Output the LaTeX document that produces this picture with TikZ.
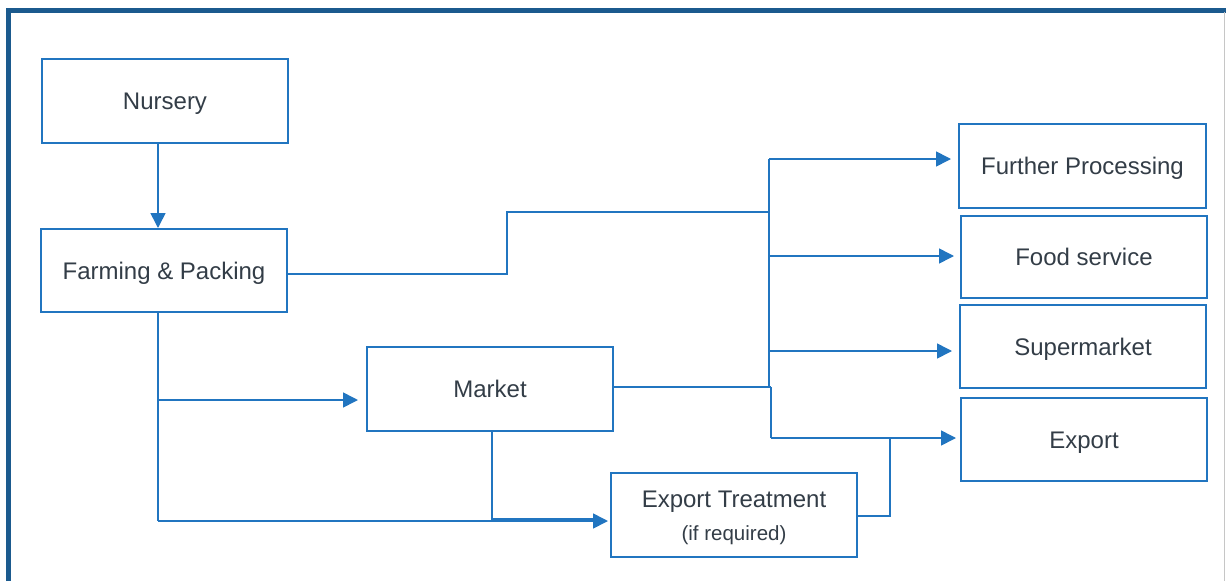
\documentclass[tikz,border=0pt]{standalone}
\usepackage{fontspec}
\setmainfont{Liberation Sans}
\usetikzlibrary{arrows.meta}
\definecolor{boxblue}{HTML}{2175C0}
\definecolor{frameblue}{HTML}{1B5A8E}
\definecolor{txt}{HTML}{333D47}
\tikzset{
  stagebox/.style={draw=boxblue, line width=2pt, fill=white, inner sep=0pt,
    minimum width=246pt, minimum height=83pt, text=txt, align=center,
    text height=17pt, text depth=0pt,
    font=\fontsize{24}{28}\selectfont},
  conn/.style={draw=boxblue, line width=1.6pt},
  arr/.style={conn, -{Triangle[length=15pt,width=15pt]}},
}
\begin{document}
\begin{tikzpicture}[x=1pt,y=-1pt]
\useasboundingbox (0,0) rectangle (1226,581);
% frame
\draw[frameblue, line width=4.5pt] (8.5,581) -- (8.5,10.5) -- (1226,10.5);
\draw[gray!45, line width=1pt] (1224.5,12) -- (1224.5,581);

% nodes
\node[stagebox, minimum height=84pt] (nursery) at (165,101) {Nursery};
\node[stagebox] (farm) at (164,270.5) {Farming \& Packing};
\node[stagebox, minimum height=84pt] (market) at (490,389) {Market};
\node[stagebox, minimum height=84pt] (treat) at (734,515) {};
\node[text=txt, inner sep=0pt, text height=17pt, text depth=0pt, font=\fontsize{24}{28}\selectfont] (treatA) at (734,499) {Export Treatment};
\node[text=txt, inner sep=0pt, text height=15pt, text depth=0pt, font=\fontsize{20.5}{24}\selectfont] (treatB) at (734,533) {(if required)};
\node[stagebox, minimum width=247pt, minimum height=84pt] (fp) at (1082.5,166) {Further Processing};
\node[stagebox, minimum height=82pt] (food) at (1084,257) {Food service};
\node[stagebox] (super) at (1083,346.5) {Supermarket};
\node[stagebox] (export) at (1084,439.5) {Export};

% helper coordinates
\coordinate (cx) at (158,0);
\coordinate (j1) at (769,212);
\coordinate (t1) at (769,159);
\coordinate (t2) at (769,256);
\coordinate (t3) at (769,351);
\coordinate (tb) at (769,387);
\coordinate (tm) at (771,387);
\coordinate (t4) at (771,438);
\coordinate (fm) at (158,400);
\coordinate (fb) at (158,521);
\coordinate (mb) at (492,519);
\coordinate (te) at (890,438);

% connectors
\draw[arr] (nursery.south -| cx) -- (farm.north -| cx);
\draw[conn] ([yshift=-3.5pt]farm.east) -| (507,212) -- (j1);
\draw[conn] (t1) -- (tb);
\draw[arr, shorten >=7pt] (t1) -- (t1 -| fp.west);
\draw[arr, shorten >=6pt] (t2) -- (t2 -| food.west);
\draw[arr, shorten >=7pt] (t3) -- (t3 -| super.west);
\draw[conn, line width=2.6pt] (market.east |- tm) -- (tm);
\draw[conn] (tm) -- (t4);
\draw[arr, shorten >=4pt] (t4) -- (t4 -| export.west);
\draw[conn] (farm.south -| cx) -- (fb);
\draw[arr, shorten >=8pt] (fm) -- (fm -| market.west);
\draw[arr, shorten >=2pt] (fb) -- (fb -| treat.west);
\draw[conn] (market.south -| mb) -- (mb) -- ([xshift=-14pt]mb -| treat.west);
\draw[conn] ([yshift=-1pt]treat.east) -| (te);
\end{tikzpicture}
\end{document}
